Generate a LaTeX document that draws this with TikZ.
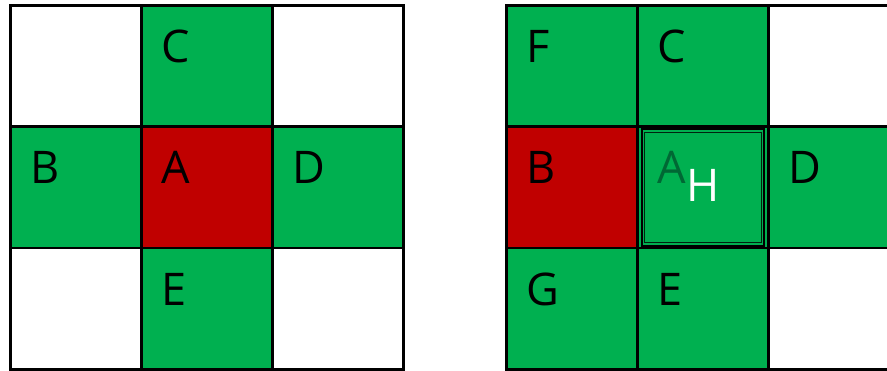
\documentclass[tikz,border=0pt]{standalone}
\usepackage{fontspec}
\setmainfont{Open Sans}
\definecolor{cgreen}{RGB}{0,176,80}
\definecolor{cred}{RGB}{192,0,0}
\definecolor{cdark}{RGB}{0,104,52}
\tikzset{
  cell/.style={draw=black, line width=2.7pt, minimum width=131pt, minimum height=121.3pt, inner sep=0pt, outer sep=0pt, anchor=north west},
  lab/.style={font=\fontsize{45}{45}\selectfont, anchor=base west, inner sep=0pt},
}
\begin{document}
\begin{tikzpicture}[x=1pt,y=-1pt]
\useasboundingbox (0,0) rectangle (887,371);
\clip (0,0) rectangle (887,371);
% left grid
\node[cell] (l00) at (10.5,5.5) {};
\node[cell, fill=cgreen] (l10) at (141.5,5.5) {};
\node[cell] (l20) at (272.5,5.5) {};
\node[cell, fill=cgreen] (l01) at (10.5,126.8) {};
\node[cell, fill=cred] (l11) at (141.5,126.8) {};
\node[cell, fill=cgreen] (l21) at (272.5,126.8) {};
\node[cell] (l02) at (10.5,248.1) {};
\node[cell, fill=cgreen] (l12) at (141.5,248.1) {};
\node[cell] (l22) at (272.5,248.1) {};
\node[lab] (tC) at ([xshift=20pt,yshift=-57pt]l10.north west) {C};
\node[lab] (tB) at ([xshift=20pt,yshift=-57pt]l01.north west) {B};
\node[lab] (tA) at ([xshift=20pt,yshift=-57pt]l11.north west) {A};
\node[lab] (tD) at ([xshift=20pt,yshift=-57pt]l21.north west) {D};
\node[lab] (tE) at ([xshift=20pt,yshift=-57pt]l12.north west) {E};
% right grid
\node[cell, fill=cgreen] (r00) at (506.7,5.5) {};
\node[cell, fill=cgreen] (r10) at (637.7,5.5) {};
\node[cell] (r20) at (768.7,5.5) {};
\node[cell, fill=cred] (r01) at (506.7,126.8) {};
\node[cell, fill=cgreen] (r11) at (637.7,126.8) {};
\node[cell, fill=cgreen] (r21) at (768.7,126.8) {};
\node[cell, fill=cgreen] (r02) at (506.7,248.1) {};
\node[cell, fill=cgreen] (r12) at (637.7,248.1) {};
\node[cell] (r22) at (768.7,248.1) {};
% H box
\node[draw=black, line width=2pt, minimum width=122.5pt, minimum height=116.5pt, inner sep=0pt, anchor=center] (hbox) at (r11.center) {};
\node[draw=black!80!cgreen, line width=1pt, minimum width=116.5pt, minimum height=110.5pt, inner sep=0pt, anchor=center] (hinner) at (r11.center) {};
\node[lab] (rF) at ([xshift=20pt,yshift=-57pt]r00.north west) {F};
\node[lab] (rC) at ([xshift=20pt,yshift=-57pt]r10.north west) {C};
\node[lab] (rB) at ([xshift=20pt,yshift=-57pt]r01.north west) {B};
\node[lab, text=cdark] (rA) at ([xshift=20pt,yshift=-57pt]r11.north west) {A};
\node[lab] (rD) at ([xshift=20pt,yshift=-57pt]r21.north west) {D};
\node[lab] (rG) at ([xshift=20pt,yshift=-57pt]r02.north west) {G};
\node[lab] (rE) at ([xshift=20pt,yshift=-57pt]r12.north west) {E};
\node[lab, text=white] (rH) at ([xshift=49pt,yshift=-75pt]r11.north west) {H};
\end{tikzpicture}
\end{document}
